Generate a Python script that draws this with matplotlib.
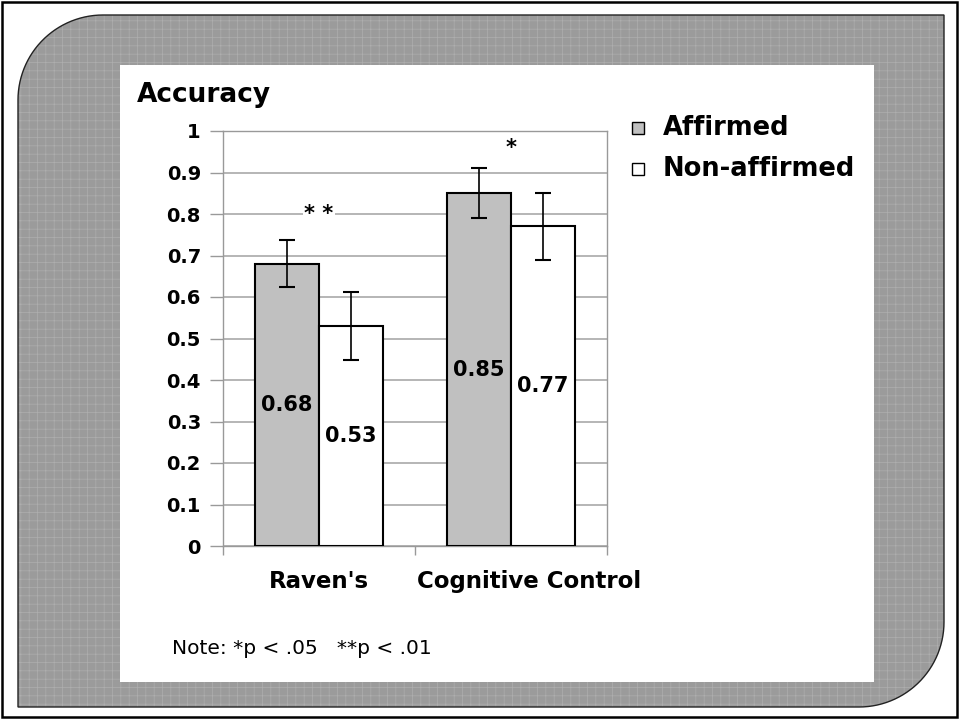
import numpy as np
import matplotlib
matplotlib.use("Agg")
import matplotlib.pyplot as plt
import matplotlib.transforms as mtransforms
from matplotlib.patches import Rectangle, PathPatch
from matplotlib.path import Path

# ---- data ----
categories = ["Raven's", "Cognitive Control"]
series_names = ["Affirmed", "Non-affirmed"]
affirmed = [0.68, 0.85]
non_affirmed = [0.53, 0.77]
affirmed_err = [0.057, 0.06]
non_affirmed_err = [0.082, 0.08]
sig_labels = ["* *", "*"]
sig_heights = [0.80, 0.96]
y_ticks = [0, 0.1, 0.2, 0.3, 0.4, 0.5, 0.6, 0.7, 0.8, 0.9, 1]
y_tick_labels = ["0", "0.1", "0.2", "0.3", "0.4", "0.5", "0.6", "0.7", "0.8", "0.9", "1"]
note = "Note: *p < .05   **p < .01"

W, H = 959, 719
fig = plt.figure(figsize=(W / 100, H / 100), dpi=100)
fig.patch.set_facecolor("white")

# background axes in pixel coordinates
bg = fig.add_axes([0, 0, 1, 1], zorder=0)
bg.set_xlim(0, W)
bg.set_ylim(H, 0)
bg.axis("off")

# outer frame
bg.add_patch(Rectangle((1.5, 1.5), W - 4, H - 4, fill=False, edgecolor="black", lw=1.8))

# rounded gray shape (top-left and bottom-right corners rounded)
x0, y0, x1, y1, r = 18, 15, 944, 707, 85
verts = []
th = np.linspace(np.pi, 1.5 * np.pi, 30)
tl = [(x0 + r + r * np.cos(t), y0 + r + r * np.sin(t)) for t in th]
verts += tl
verts += [(x1, y0)]
th2 = np.linspace(0, 0.5 * np.pi, 30)
br = [(x1 - r + r * np.cos(t), y1 - r + r * np.sin(t)) for t in th2]
verts += br
verts += [(x0, y1)]
verts += [tl[0]]
codes = [Path.MOVETO] + [Path.LINETO] * (len(verts) - 2) + [Path.CLOSEPOLY]
path = Path(verts, codes)
plt.rcParams["hatch.linewidth"] = 0.5
bg.add_patch(PathPatch(path, facecolor="#9b9b9b", edgecolor="#aeaeae", hatch="++", lw=0))
bg.add_patch(PathPatch(path, facecolor="none", edgecolor="#222222", lw=1.0))

# white panel
bg.add_patch(Rectangle((120, 65), 874 - 120, 682 - 65, facecolor="white", edgecolor="none"))

# y label at top
bg.text(137, 95, "Accuracy", fontsize=19, fontweight="bold", ha="left", va="center")

# legend
leg_colors = ["#c0c0c0", "white"]
for i, (name, col) in enumerate(zip(series_names, leg_colors)):
    yc = 128 + i * 41
    bg.add_patch(Rectangle((632, yc - 6), 12, 12, facecolor=col, edgecolor="black", lw=1.0))
    bg.text(663, yc, name, fontsize=18.5, fontweight="bold", ha="left", va="center")

# note
bg.text(172, 648, note, fontsize=14.5, ha="left", va="center")

# ---- chart axes ----
ax_l, ax_r, ax_t, ax_b = 223, 607, 131, 546
ax = fig.add_axes([ax_l / W, (H - ax_b) / H, (ax_r - ax_l) / W, (ax_b - ax_t) / H], zorder=1)
ax.set_facecolor("none")
x = np.arange(len(categories))
bw = 1 / 3
ax.bar(x - bw / 2, affirmed, bw, color="#c0c0c0", edgecolor="black", lw=1.5, zorder=3)
ax.bar(x + bw / 2, non_affirmed, bw, color="white", edgecolor="black", lw=1.5, zorder=3)
ax.errorbar(x - bw / 2, affirmed, yerr=affirmed_err, fmt="none", ecolor="black",
            elinewidth=1.2, capsize=6, capthick=1.5, zorder=4)
ax.errorbar(x + bw / 2, non_affirmed, yerr=non_affirmed_err, fmt="none", ecolor="black",
            elinewidth=1.2, capsize=6, capthick=1.5, zorder=4)
for xi, v in zip(x - bw / 2, affirmed):
    ax.text(xi, v / 2, f"{v:.2f}", ha="center", va="center", fontsize=15, fontweight="bold", zorder=5)
for xi, v in zip(x + bw / 2, non_affirmed):
    ax.text(xi, v / 2, f"{v:.2f}", ha="center", va="center", fontsize=15, fontweight="bold", zorder=5)
for xi, lab, h in zip(x, sig_labels, sig_heights):
    ax.text(xi, h, lab, ha="center", va="center", fontsize=15, fontweight="bold", zorder=5,
            bbox=dict(facecolor="white", edgecolor="none", pad=1))

ax.set_xlim(-0.5, len(categories) - 0.5)
ax.set_ylim(0, 1)
ax.set_yticks(y_ticks)
ax.set_yticklabels(y_tick_labels, fontsize=14, fontweight="bold")
ax.yaxis.grid(True, color="#b0b0b0", lw=1.3, zorder=0)
ax.set_axisbelow(True)
ax.tick_params(axis="y", direction="out", length=9.4, width=1, color="#999999", pad=6.5)
ax.set_xticks(x)
ax.set_xticklabels(categories, fontsize=16.5, fontweight="bold")
ax.set_xticks(np.arange(-0.5, len(categories), 1.0), minor=True)
ax.tick_params(axis="x", which="major", length=0, pad=17)
ax.tick_params(axis="x", which="minor", direction="out", length=6.5, width=1, color="#999999")
# second category label sits a bit right of its centre in the reference
lbl = ax.get_xticklabels()[1]
lbl.set_transform(lbl.get_transform() + mtransforms.ScaledTranslation(0.18, 0, fig.dpi_scale_trans))
for s in ["left", "right", "top", "bottom"]:
    ax.spines[s].set_color("#999999")
    ax.spines[s].set_linewidth(1.0)

fig.savefig("out.png", dpi=100)
